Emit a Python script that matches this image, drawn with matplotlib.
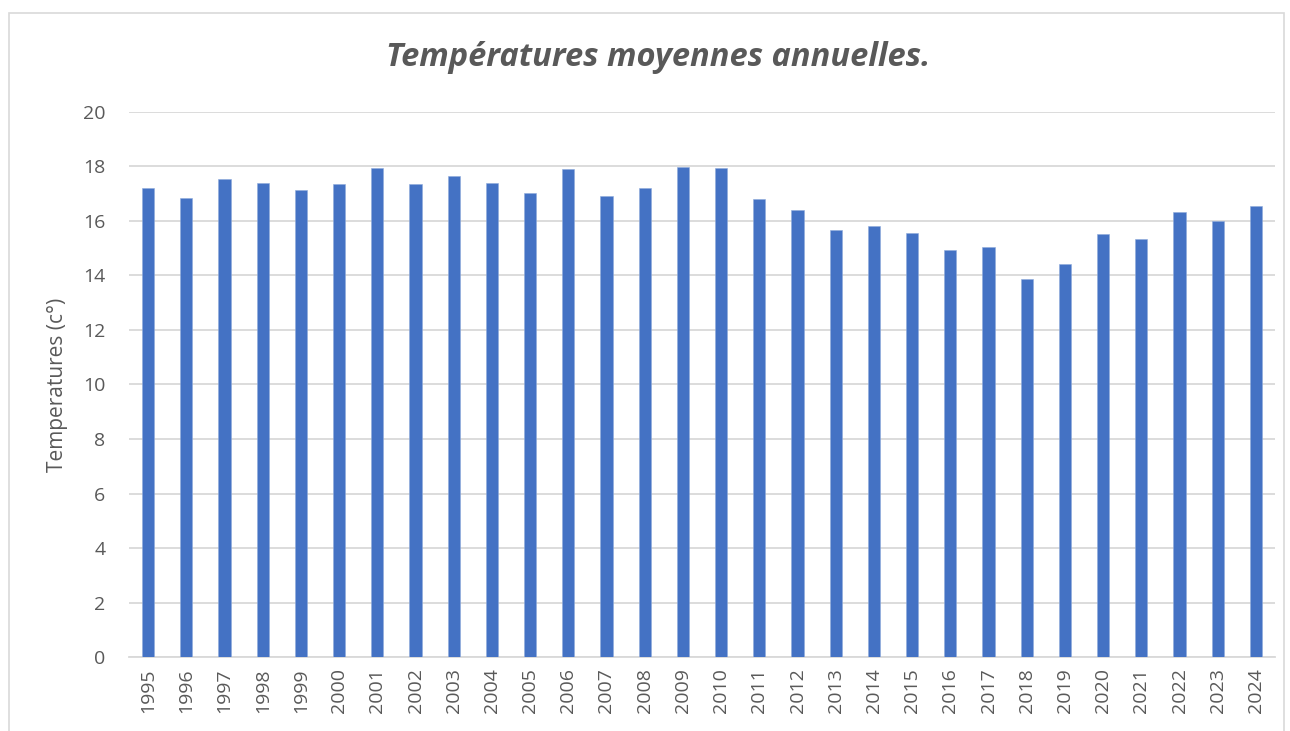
import numpy as np
import matplotlib.pyplot as plt
from matplotlib.patches import Rectangle

years = [str(y) for y in range(1995, 2025)]
temps = [17.20, 16.83, 17.54, 17.37, 17.12, 17.34, 17.92, 17.35, 17.65, 17.39,
         17.01, 17.90, 16.92, 17.21, 17.98, 17.92, 16.79, 16.40, 15.67, 15.82,
         15.54, 14.92, 15.04, 13.87, 14.42, 15.52, 15.34, 16.31, 15.98, 16.53]
yticks = [0, 2, 4, 6, 8, 10, 12, 14, 16, 18, 20]

plt.rcParams['font.family'] = ['Open Sans', 'DejaVu Sans']
grey = "#595959"

fig = plt.figure(figsize=(12.9, 7.31), dpi=100)
# chart frame
fig.patches.append(Rectangle((9 / 1290, -0.05), 1275 / 1290, 1.05 - 13 / 731,
                             transform=fig.transFigure, fill=False,
                             edgecolor="#d9d9d9", lw=1.2))

ax = fig.add_axes([129 / 1290, 1 - 657.3 / 731, 1146 / 1290, 545.6 / 731])
x = np.arange(len(years))
ax.bar(x, temps, width=0.32, color="#4472C4", edgecolor="#8eaadb", linewidth=0.4, zorder=3)

ax.set_xlim(-0.5, len(years) - 0.5)
ax.set_ylim(0, 20)
ax.set_yticks(yticks)
ax.set_xticks(x)
ax.set_xticklabels(years, rotation=90)
ax.tick_params(axis="both", length=0, labelsize=14, colors=grey)
ax.tick_params(axis="y", pad=17)
ax.tick_params(axis="x", pad=8)
ax.grid(axis="y", color="#d9d9d9", lw=1.3, zorder=0)
for s in ["top", "right", "left"]:
    ax.spines[s].set_visible(False)
ax.spines["bottom"].set_color("#d9d9d9")
ax.spines["bottom"].set_linewidth(1.3)

fig.text(57 / 1290, 1 - 385 / 731, "Temperatures (c°)", rotation=90, ha="center", va="center",
         fontsize=15, color=grey)
fig.text(658 / 1290, 1 - 57 / 731, "Températures moyennes annuelles.", ha="center", va="center",
         fontsize=23.5, fontweight="bold", fontstyle="italic", color="#595959")

fig.savefig("out.png")
